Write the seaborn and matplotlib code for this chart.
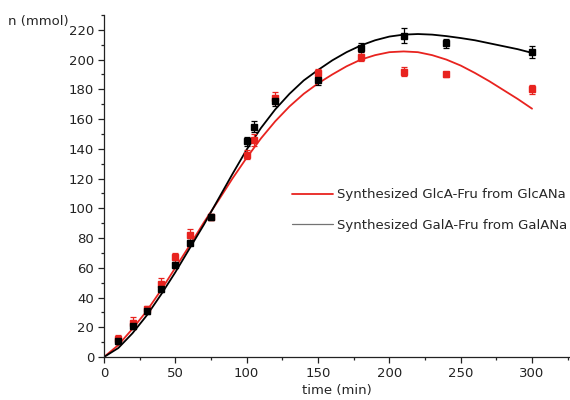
import numpy as np
import pandas as pd
import matplotlib
matplotlib.use("Agg")
import matplotlib.pyplot as plt
from matplotlib.lines import Line2D
from matplotlib.ticker import MultipleLocator
import seaborn as sns

# measured points
t_pts = [10, 20, 30, 40, 50, 60, 75, 100, 105, 120, 150, 180, 210, 240, 300]
galA = [11, 21, 31, 46, 62, 77, 94, 145, 155, 172, 186, 208, 216, 211, 205]
galA_err = [2, 2, 2, 2, 2, 2, 2, 3, 4, 3, 3, 3, 5, 3, 4]
glcA = [12, 23, 32, 49, 67, 82, 94, 136, 146, 174, 191, 202, 192, 190, 180]
glcA_err = [3, 4, 2, 4, 3, 4, 2, 3, 4, 4, 3, 3, 3, 2, 3]

# fitted curves
t_fit = list(range(0, 310, 10))
galA_fit = [0, 6, 16, 28, 42, 57, 73, 89, 106, 123, 139.5, 154, 166.5, 177, 186, 193,
            199.5, 205, 209.5, 213, 215.5, 216.8, 217.2, 216.8, 215.8, 214.5, 213,
            211, 209, 207, 204.5]
glcA_fit = [0, 8, 19, 31, 45, 60, 75, 90.5, 105, 120, 134, 147, 158.5, 168.5, 177, 184,
            190, 195.5, 200, 203, 205, 205.5, 205, 203, 200, 196, 191, 185.5, 179.5,
            173.5, 167]

sns.set_style("ticks")
plt.rcParams['font.family'] = ['DejaVu Sans']

fig = plt.figure(figsize=(5.7, 4.0), dpi=100)
ax = fig.add_axes([104/570, 1 - 357/400, 1 - 104/570, (357 - 15)/400])

fit = pd.DataFrame({"t": t_fit, "glc": glcA_fit, "gal": galA_fit})
sns.lineplot(data=fit, x="t", y="glc", color="#e8231f", lw=1.3, ax=ax)
sns.lineplot(data=fit, x="t", y="gal", color="black", lw=1.3, ax=ax)

ax.errorbar(t_pts, glcA, yerr=glcA_err, fmt="s", color="#e8231f", ms=4.5,
            capsize=2.5, elinewidth=0.9, capthick=0.9)
ax.errorbar(t_pts, galA, yerr=galA_err, fmt="s", color="black", ms=4.5,
            capsize=2.5, elinewidth=0.9, capthick=0.9)

ax.set_xlim(0, 326.6)
ax.set_ylim(0, 230)
ax.xaxis.set_major_locator(MultipleLocator(50))
ax.xaxis.set_minor_locator(MultipleLocator(25))
ax.yaxis.set_major_locator(MultipleLocator(20))
ax.yaxis.set_minor_locator(MultipleLocator(10))
ax.tick_params(which="major", length=4, width=0.9, labelsize=9.5, colors="#222222", pad=3)
ax.tick_params(which="minor", length=2.5, width=0.9, colors="#222222")
sns.despine(ax=ax)
for s in ["left", "bottom"]:
    ax.spines[s].set_linewidth(0.9)
    ax.spines[s].set_color("#222222")

ax.set_xlabel("time (min)", fontsize=9.5, labelpad=3)
ax.set_ylabel("")
fig.text(8/570, 1 - 21/400, "n (mmol)", fontsize=9.5, va="center", ha="left")

handles = [Line2D([], [], color="#e8231f", lw=1.3),
           Line2D([], [], color="0.45", lw=0.9)]
ax.legend(handles, ["Synthesized GlcA-Fru from GlcANa", "Synthesized GalA-Fru from GalANa"],
          loc="upper left", bbox_to_anchor=(0.392, 0.509), frameon=False,
          fontsize=9.5, handlelength=3.1, handletextpad=0.3, labelspacing=1.35,
          borderaxespad=0)

fig.savefig("out.png", dpi=100)
